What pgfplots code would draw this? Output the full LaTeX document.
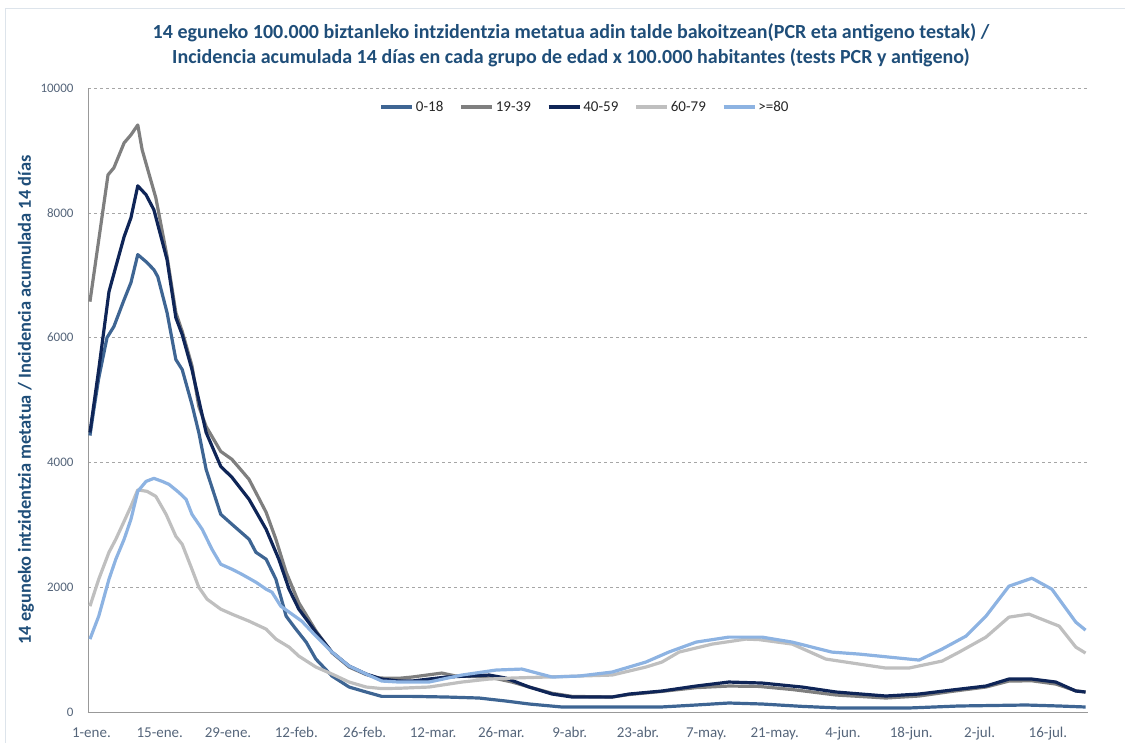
\documentclass[border=0pt]{standalone}
\usepackage{pgfplots}
\pgfplotsset{compat=1.18}
\usepackage{fontspec}
\setmainfont{Carlito}

\definecolor{cA}{HTML}{3E6593}
\definecolor{cB}{HTML}{7F7F7F}
\definecolor{cC}{HTML}{0F2557}
\definecolor{cD}{HTML}{BFBFBF}
\definecolor{cE}{HTML}{8DB3E2}
\definecolor{ttl}{HTML}{1F4E79}
\definecolor{tk}{HTML}{55657A}

\begin{document}
\begin{tikzpicture}
\path[use as bounding box] (0,0) rectangle (1125pt,743pt);
\draw[color=ttl!15, line width=1pt] (5pt,-5pt) |- (1135pt,734pt);

\node[text=ttl, font=\fontsize{20}{25}\selectfont\bfseries, align=center] at (571pt,698pt)
  {14 eguneko 100.000 biztanleko intzidentzia metatua adin talde bakoitzean(PCR eta antigeno testak) /\\
   Incidencia acumulada 14 días en cada grupo de edad x 100.000 habitantes (tests PCR y antigeno)};

\node[text=ttl, font=\fontsize{18.4}{20}\selectfont\bfseries, rotate=90] at (26pt,343pt)
  {14 eguneko intzidentzia metatua / Incidencia acumulada 14 días};

\begin{axis}[
    at={(88pt,31pt)}, anchor=south west,
    width=1000pt, height=624pt, scale only axis,
    xmin=-0.4, xmax=204.5, ymin=0, ymax=10000,
    axis x line*=bottom, axis y line*=left,
    axis line style={color=gray!80, line width=0.8pt},
    major tick length=0pt,
    xtick={0.3,14.3,...,196.3},
    xticklabels={1-ene.,15-ene.,29-ene.,12-feb.,26-feb.,12-mar.,26-mar.,9-abr.,23-abr.,7-may.,21-may.,4-jun.,18-jun.,2-jul.,16-jul.},
    ytick={0,2000,...,10000},
    scaled y ticks=false,
    ymajorgrids,
    grid style={dashed, color=gray!70, line width=0.5pt},
    ticklabel style={color=tk},
    xticklabel style={font=\fontsize{15}{17}\selectfont},
    yticklabel style={font=\fontsize{13}{15}\selectfont, /pgf/number format/1000 sep={}},
    /pgf/number format/assume math mode=true,
    xticklabel shift=12pt, yticklabel shift=11pt,
    every axis plot/.append style={line width=3.2pt, line join=round, no markers},
    legend columns=5,
    legend style={at={(0.497,0.9696)}, anchor=center, draw=none, fill=none,
        font=\fontsize{15}{17}\selectfont, text=black!85,
        /tikz/every even column/.append style={column sep=14pt}},
    legend image code/.code={\draw[#1, line width=3.5pt] (0pt,0pt) -- (31pt,0pt);},
]

% 0-18
\addplot[cA] coordinates {
(0,4430) (0.8,4850) (1.8,5350) (3.5,6000) (4.9,6176) (7,6608) (8.4,6880) (9.8,7330)
(11.5,7216) (13.1,7088) (13.9,6976) (15.8,6400) (17.6,5648) (18.9,5488) (20.9,4928)
(22.3,4480) (23.8,3888) (26.8,3168) (29.1,3008) (32.6,2768) (34,2560) (36.1,2448)
(38.1,2128) (40.2,1536) (42.2,1328) (44.3,1120) (46.3,848) (49.6,576) (53.1,400)
(56.6,320) (59.8,250) (66,250) (73,240) (79.7,224) (85.2,176) (90,128) (96.7,80)
(117,80) (124.2,112) (130.9,144) (137.7,128) (145.9,90) (153.5,64) (167.8,64)
(178,96) (191.8,112) (198.6,96) (204,80)};

% 19-39
\addplot[cB] coordinates {
(0,6576) (3.7,8608) (4.9,8720) (7,9120) (8.4,9248) (9.8,9408) (10.7,9008) (13.5,8240)
(15.8,7300) (17.6,6400) (18.9,6100) (20.9,5550) (22.3,4900) (23.8,4576) (26.8,4176)
(29.1,4048) (32.6,3728) (36.1,3200) (38.1,2768) (40.2,2240) (42.8,1750) (46.3,1300)
(49.6,950) (53.1,720) (56.6,600) (59.2,544) (63.3,540) (66,560) (72.1,624) (75,576)
(81.8,560) (86.5,480) (90,400) (94.7,300) (98.8,250) (107,240) (110.5,280) (117.2,330)
(124.2,390) (130.9,416) (137.1,410) (143.9,360) (152.9,272) (163.1,224) (169.9,256)
(176.6,330) (183.6,400) (188.3,496) (193,500) (197.9,448) (202,340) (204,320)};

% 40-59
\addplot[cC] coordinates {
(0,4480) (1.8,5488) (3.9,6736) (5.3,7136) (7,7616) (8.4,7920) (9.8,8432) (11.5,8288)
(13.1,8048) (15.8,7248) (17.6,6320) (18.9,6048) (20.9,5488) (23.8,4480) (26.8,3936)
(29.1,3760) (32.6,3408) (36.1,2928) (38.7,2448) (40.8,1968) (42.8,1648) (46.3,1280)
(49.6,960) (53.1,736) (56.6,608) (59.8,528) (63.3,496) (66,496) (73,560) (81.8,592)
(85.2,544) (90,400) (94.7,288) (98.8,240) (107,240) (110.5,288) (117.2,336) (124.2,416)
(130.9,480) (137.7,464) (145.9,400) (152.9,320) (163.1,256) (169.9,288) (176.6,352)
(183.6,416) (188.3,528) (193,528) (197.9,480) (202,336) (204,320)};

% 60-79
\addplot[cD] coordinates {
(0,1696) (1.8,2128) (3.9,2560) (5.3,2768) (7,3056) (8.4,3296) (9.8,3560) (11.7,3536)
(13.5,3456) (15.6,3168) (17.6,2816) (18.9,2688) (20.9,2288) (22.3,2000) (24,1808)
(26.8,1648) (29.1,1568) (32.6,1456) (36.1,1328) (38.1,1168) (40.8,1040) (42.8,896)
(46.3,720) (49.6,608) (53.1,480) (56.6,400) (59.8,375) (63.3,380) (69.5,400) (76.2,480)
(81.8,528) (86.5,544) (93.4,560) (100.2,576) (107,592) (113.9,720) (117.2,800)
(120.7,960) (127.5,1088) (134.4,1168) (137.1,1160) (143.9,1088) (150.8,848) (157.6,768)
(163.1,704) (167.8,704) (174.6,816) (178.1,960) (183.6,1200) (188.3,1520) (192.4,1568)
(198.6,1376) (202,1040) (204,944)};

% >=80
\addplot[cE] coordinates {
(0,1168) (1.8,1536) (3.9,2128) (5.3,2448) (7,2768) (8.4,3088) (9.8,3536) (11.5,3696)
(13.1,3744) (14.8,3696) (16.2,3648) (18.2,3520) (19.7,3408) (20.9,3168) (23,2928)
(25,2608) (26.8,2368) (29.1,2288) (31.1,2208) (34,2080) (36.1,1968) (37.3,1920)
(39.1,1696) (41.4,1568) (43.4,1456) (46.3,1216) (49.6,960) (53.1,736) (56.6,608)
(59.8,496) (63.3,480) (69.5,480) (76.2,592) (83.2,672) (88.5,688) (94.7,560) (100.2,576)
(107,640) (113.9,800) (118.6,960) (124.2,1120) (130.9,1200) (137.7,1200) (143.9,1120)
(152,960) (157.6,928) (167.8,848) (169.9,832) (174.6,1008) (179.5,1216) (183.6,1536)
(188.3,2016) (193,2144) (197.1,1968) (202,1440) (204,1312)};

\legend{0-18,19-39,40-59,60-79,>=80}
\end{axis}
\end{tikzpicture}
\end{document}
